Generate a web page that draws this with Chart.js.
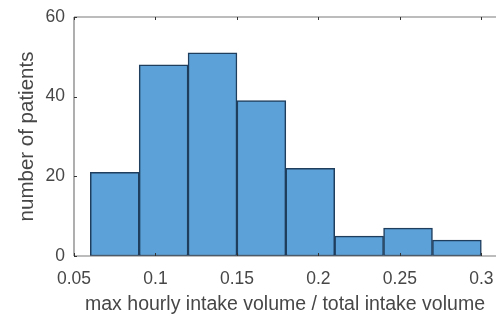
<!DOCTYPE html>
<html>
<head>
<meta charset="utf-8">
<script src="https://cdn.jsdelivr.net/npm/chart.js@4"></script>
<style>
html,body{margin:0;padding:0;background:#fff;overflow:hidden;}
#wrap{width:496px;height:319px;position:relative;}
</style>
</head>
<body>
<div id="wrap"><canvas id="c" width="496" height="319"></canvas></div>
<script>
// Histogram data
const binCenters = [0.075, 0.105, 0.135, 0.165, 0.195, 0.225, 0.255, 0.285];
const counts = [21, 48, 51, 39, 22, 5, 7, 4];
const xTicks = [0.05, 0.1, 0.15, 0.2, 0.25, 0.3];
const xTickLabels = ['0.05', '0.1', '0.15', '0.2', '0.25', '0.3'];
const yTicks = [0, 20, 40, 60];
const yTickLabels = ['0', '20', '40', '60'];
const xTitle = 'max hourly intake volume / total intake volume';
const yTitle = 'number of patients';

const axisColor = '#7a7a7a';
const textColor = '#474747';
const font = "'Liberation Sans', Arial, sans-serif";

const boxPlugin = {
  id: 'box',
  afterDatasetsDraw(chart) {
    const {ctx, chartArea: a, scales: {x, y}} = chart;
    ctx.save();
    ctx.strokeStyle = axisColor;
    ctx.lineWidth = 1.2;
    ctx.beginPath();
    ctx.moveTo(a.left, a.top); ctx.lineTo(a.right + 2, a.top);
    ctx.moveTo(a.left, a.bottom); ctx.lineTo(a.right + 2, a.bottom);
    ctx.moveTo(a.left, a.top); ctx.lineTo(a.left, a.bottom);
    ctx.stroke();
    ctx.strokeStyle = '#333';
    ctx.lineWidth = 1;
    ctx.beginPath();
    xTicks.forEach(v => {
      const px = Math.round(x.getPixelForValue(v)) + 0.5;
      ctx.moveTo(px, a.bottom); ctx.lineTo(px, a.bottom - 3);
      ctx.moveTo(px, a.top); ctx.lineTo(px, a.top + 3);
    });
    yTicks.forEach(v => {
      const py = Math.round(y.getPixelForValue(v)) + 0.5;
      ctx.moveTo(a.left, py); ctx.lineTo(a.left + 3, py);
    });
    ctx.stroke();
    ctx.restore();
  }
};

new Chart(document.getElementById('c'), {
  type: 'bar',
  data: {
    datasets: [{
      data: binCenters.map((c, i) => ({x: c, y: counts[i]})),
      backgroundColor: 'rgb(92,162,216)',
      borderColor: '#1f3d5c',
      borderWidth: 1.5,
      barPercentage: 1.0,
      categoryPercentage: 1.0,
      borderSkipped: false
    }]
  },
  options: {
    responsive: false,
    animation: false,
    events: [],
    layout: {padding: {top: 17, right: 0, left: 0, bottom: 0}},
    plugins: {legend: {display: false}, tooltip: {enabled: false}},
    scales: {
      x: {
        type: 'linear',
        min: 0.05,
        max: 0.309,
        offset: false,
        grid: {display: false, drawTicks: false},
        border: {display: false},
        afterBuildTicks: s => { s.ticks = xTicks.map(v => ({value: v})); },
        afterFit: s => { s.height = 63; s.paddingLeft = 0; s.paddingRight = 0; },
        ticks: {
          color: textColor,
          font: {family: font, size: 17.5},
          padding: 13,
          maxRotation: 0,
          autoSkip: false,
          callback: (v, i) => xTickLabels[i]
        },
        title: {
          display: true, text: xTitle, color: textColor,
          font: {family: font, size: 19.5}, padding: {top: 0, bottom: 3}
        }
      },
      y: {
        min: 0, max: 60,
        grid: {display: false, drawTicks: false},
        border: {display: false},
        afterBuildTicks: s => { s.ticks = yTicks.map(v => ({value: v})); },
        afterFit: s => { s.width = 74; s.paddingTop = 0; s.paddingBottom = 0; },
        ticks: {
          color: textColor,
          font: {family: font, size: 17.5},
          padding: 9,
          callback: (v, i) => yTickLabels[i]
        },
        title: {
          display: true, text: yTitle, color: textColor,
          font: {family: font, size: 20.5}, padding: {top: 15.5, bottom: 0}
        }
      }
    }
  },
  plugins: [boxPlugin]
});
</script>
</body>
</html>
